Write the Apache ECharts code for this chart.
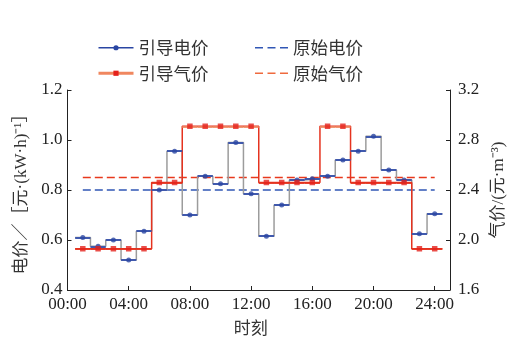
<!DOCTYPE html>
<html>
<head>
<meta charset="utf-8">
<script src="https://cdn.jsdelivr.net/npm/echarts@6/dist/echarts.min.js"></script>
<style>
  html, body { margin: 0; padding: 0; background: #fff; }
  #chart { width: 529px; height: 346px; }
</style>
</head>
<body>
<div id="chart"></div>
<script>
// Hourly marks (h = 1..24) and prices
const hours = [1, 2, 3, 4, 5, 6, 7, 8, 9, 10, 11, 12, 13, 14, 15, 16, 17, 18, 19, 20, 21, 22, 23, 24];
const elecPrice = [0.61, 0.575, 0.60, 0.52, 0.635, 0.80, 0.955, 0.70, 0.855, 0.825, 0.99, 0.785,
                   0.615, 0.74, 0.84, 0.845, 0.855, 0.92, 0.955, 1.015, 0.88, 0.84, 0.625, 0.705];
const gasPrice = [1.93, 1.93, 1.93, 1.93, 1.93, 2.46, 2.46, 2.91, 2.91, 2.91, 2.91, 2.91,
                  2.46, 2.46, 2.46, 2.46, 2.91, 2.91, 2.46, 2.46, 2.46, 2.46, 1.93, 1.93];
const origElecPrice = 0.80;
const origGasPrice = 2.50;
const xTickLabels = ['00:00', '04:00', '08:00', '12:00', '16:00', '20:00', '24:00'];
const seriesNames = ['引导电价', '引导气价', '原始电价', '原始气价'];

const SERIF = "'Times New Roman', 'Liberation Serif', 'Noto Sans CJK SC', serif";
const CJK = "'Noto Sans CJK SC', sans-serif";
// three short dashes, used as the legend icon of the dashed series
const DASH_ICON = 'path://M0,0H8V1.6H0Z M12.5,0H20.5V1.6H12.5Z M25,0H33V1.6H25Z';

// Each hourly price holds from half an hour before its mark to half an hour after.
function stepPath(values) {
  const pts = [];
  hours.forEach((h, i) => { pts.push([h - 0.5, values[i]], [h + 0.5, values[i]]); });
  return pts;
}
function flatSegments(values, colorOf) {
  return hours.map((h, i) => {
    const seg = { coords: [[h - 0.5, values[i]], [h + 0.5, values[i]]] };
    if (colorOf) seg.lineStyle = { color: colorOf(values[i]) };
    return seg;
  });
}
function marks(values) { return hours.map((h, i) => [h, values[i]]); }

const chart = echarts.init(document.getElementById('chart'), null, { renderer: 'canvas' });

const legendText = { fontFamily: CJK, fontSize: 17.5, color: '#333' };

chart.setOption({
  animation: false,
  backgroundColor: '#fff',
  grid: { left: 67.5, right: 79, top: 90, bottom: 56, containLabel: false },
  legend: [
    {
      left: 97, top: 39, orient: 'vertical', padding: 0, itemWidth: 35, itemHeight: 6.5, itemGap: 8,
      textStyle: legendText,
      data: [
        { name: seriesNames[0], lineStyle: { color: '#2a46a3', width: 1.5 } },
        { name: seriesNames[1], lineStyle: { color: '#f0875f', width: 3 } }
      ]
    },
    {
      left: 255, top: 39, orient: 'vertical', padding: 0, itemWidth: 33, itemHeight: 6.5, itemGap: 8,
      textStyle: legendText,
      data: [
        { name: seriesNames[2], icon: DASH_ICON, itemStyle: { color: '#3157b5' } },
        { name: seriesNames[3], icon: DASH_ICON, itemStyle: { color: '#ef6a3e' } }
      ]
    }
  ],
  xAxis: {
    type: 'value', min: 0, max: 25, interval: 4,
    name: '时刻', nameLocation: 'middle', nameGap: 29,
    nameTextStyle: { fontFamily: CJK, fontSize: 17, color: '#333', padding: [0, 16, 0, 0] },
    axisLine: { lineStyle: { color: '#222', width: 1 } },
    axisTick: { inside: true, length: 4, lineStyle: { color: '#222' } },
    splitLine: { show: false },
    axisLabel: {
      margin: 6, fontFamily: SERIF, fontSize: 17, color: '#222',
      formatter: v => (v % 4 === 0 ? xTickLabels[v / 4] : '')
    }
  },
  yAxis: [
    {
      type: 'value', min: 0.4, max: 1.2, interval: 0.2, position: 'left',
      name: '电价／［元·(kW·h)⁻¹］', nameLocation: 'middle', nameGap: 37, nameRotate: 90,
      nameTextStyle: { fontFamily: SERIF, fontSize: 17, color: '#333' },
      axisLine: { show: true, lineStyle: { color: '#222', width: 1 } },
      axisTick: { show: true, inside: true, length: 4, lineStyle: { color: '#222' } },
      splitLine: { show: false },
      axisLabel: { margin: 5, fontFamily: SERIF, fontSize: 17, color: '#222', formatter: v => v.toFixed(1) }
    },
    {
      type: 'value', min: 1.6, max: 3.2, interval: 0.4, position: 'right',
      name: '气价/(元·m⁻³)', nameLocation: 'middle', nameGap: 38, nameRotate: 90,
      nameTextStyle: { fontFamily: SERIF, fontSize: 17, color: '#333' },
      axisLine: { show: true, lineStyle: { color: '#222', width: 1 } },
      axisTick: { show: true, inside: true, length: 4, lineStyle: { color: '#222' } },
      splitLine: { show: false },
      axisLabel: { margin: 8, fontFamily: SERIF, fontSize: 17, color: '#222', formatter: v => v.toFixed(1) }
    }
  ],
  series: [
    // reference prices (dashed)
    {
      name: seriesNames[2], type: 'line', yAxisIndex: 0, data: marks(hours.map(() => origElecPrice)),
      symbol: 'none', z: 1,
      lineStyle: { color: '#3157b5', width: 1.5, type: [8, 4] }, itemStyle: { color: '#3157b5' }
    },
    {
      name: seriesNames[3], type: 'line', yAxisIndex: 1, data: marks(hours.map(() => origGasPrice)),
      symbol: 'none', z: 1,
      lineStyle: { color: '#e8391d', width: 1.5, type: [8, 4] }, itemStyle: { color: '#e8391d' }
    },
    // guided electricity price: stepped outline, flat segments, hourly marks
    {
      name: seriesNames[0], type: 'line', yAxisIndex: 0, data: stepPath(elecPrice),
      symbol: 'circle', symbolSize: 5, showSymbol: false, z: 2,
      lineStyle: { color: '#9c9c9c', width: 1.5 }, itemStyle: { color: '#2a46a3' }
    },
    {
      type: 'lines', coordinateSystem: 'cartesian2d', xAxisIndex: 0, yAxisIndex: 0, silent: true, z: 3,
      data: flatSegments(elecPrice), lineStyle: { color: '#4059ad', width: 2, opacity: 1 }
    },
    {
      type: 'scatter', yAxisIndex: 0, data: marks(elecPrice), silent: true, z: 5,
      symbol: 'circle', symbolSize: 5, itemStyle: { color: '#2a46a3' }
    },
    // guided gas price
    {
      name: seriesNames[1], type: 'line', yAxisIndex: 1, data: stepPath(gasPrice),
      symbol: 'rect', symbolSize: 6, showSymbol: false, z: 2,
      lineStyle: { color: '#e5331f', width: 1.5 }, itemStyle: { color: '#e5221c' }
    },
    {
      type: 'lines', coordinateSystem: 'cartesian2d', xAxisIndex: 0, yAxisIndex: 1, silent: true, z: 3,
      data: flatSegments(gasPrice, v => (v > 2.7 ? '#ef8a64' : '#e5331f')),
      lineStyle: { color: '#e5331f', width: 1.8, opacity: 1 }
    },
    {
      type: 'scatter', yAxisIndex: 1, data: marks(gasPrice), silent: true, z: 5,
      symbol: 'rect', symbolSize: 5.5, itemStyle: { color: '#e5221c' }
    }
  ]
});
</script>
</body>
</html>
